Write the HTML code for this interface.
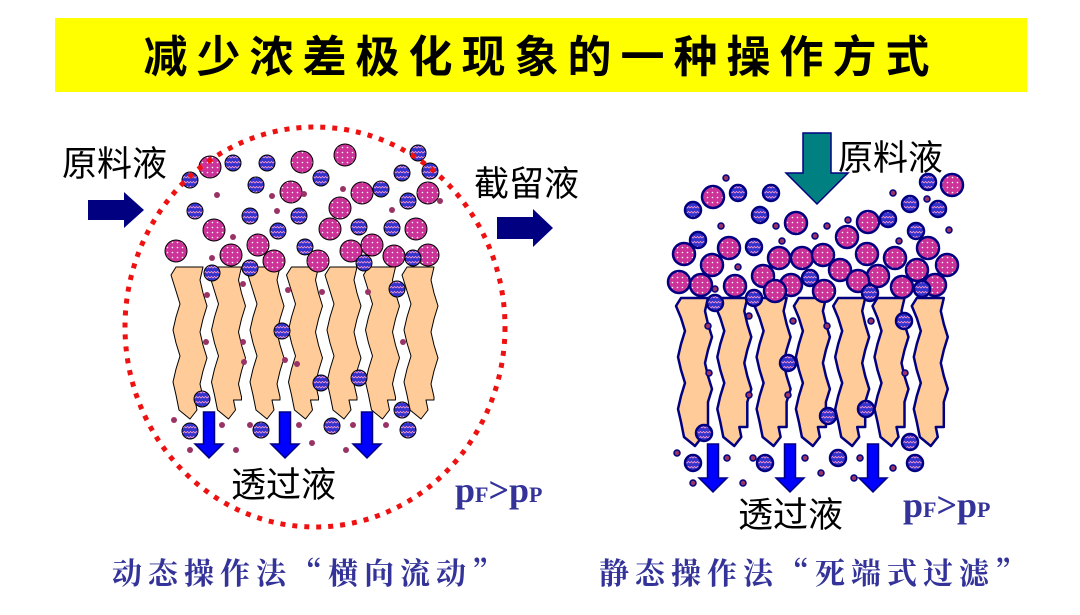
<!DOCTYPE html><html><head><meta charset="utf-8"><style>
body{margin:0;background:#fff;width:1080px;height:610px;overflow:hidden}
</style></head><body>
<svg id="s" width="1080" height="610" xmlns="http://www.w3.org/2000/svg" style="font-family:'Liberation Sans','Noto Sans CJK SC',sans-serif">
<defs>
<pattern id="dots" width="5" height="5" patternUnits="userSpaceOnUse"><rect width="5" height="5" fill="#cc3399"/><circle cx="2.5" cy="2.5" r="0.8" fill="#fff"/></pattern>
<pattern id="wave" width="6" height="5" patternUnits="userSpaceOnUse"><rect width="6" height="5" fill="#3333cc"/><path d="M0 3 L1.5 1.5 L3 3 L4.5 1.5 L6 3" stroke="#ff99cc" stroke-width="0.8" fill="none"/></pattern>
</defs>
<rect x="55" y="18" width="972" height="74" fill="#ffff00"/>
<text x="541" y="72" font-size="44" font-weight="bold" text-anchor="middle" letter-spacing="9" font-family="'Noto Sans CJK SC',sans-serif">减少浓差极化现象的一种操作方式</text>
<g id="g"></g>
<ellipse cx="315" cy="327" rx="190" ry="200" fill="none" stroke="#ee1111" stroke-width="5" stroke-dasharray="5 7"/>
<g font-size="35" fill="#000">
<text x="62" y="176">原料液</text>
<text x="474" y="196">截留液</text>
<text x="231" y="497">透过液</text>
<text x="838" y="170">原料液</text>
<text x="738" y="527">透过液</text>
</g>
<g font-family="'Liberation Serif',serif" font-weight="bold" fill="#333399">
<text x="455" y="502" font-size="36">p<tspan font-size="22">F</tspan>&gt;p<tspan font-size="22">P</tspan></text>
<text x="903" y="517" font-size="36">p<tspan font-size="22">F</tspan>&gt;p<tspan font-size="22">P</tspan></text>
</g>
<g font-family="'Noto Serif CJK SC',serif" font-weight="bold" fill="#333399" font-size="30" letter-spacing="6" text-anchor="middle">
<text x="310" y="584">动态操作法“横向流动”</text>
<text x="815" y="584">静态操作法“死端式过滤”</text>
</g>
</svg>
<script>
var g=document.getElementById('g'),h='';
function fiber(x,t,b,st,sw){var w=27,p='M'+x+' '+t+' L'+(x+w)+' '+t;var y=t,i=0;
 while(y<b-30){y+=26;p+=' L'+(x+w+(i%2?4:-3))+' '+(y-13)+' L'+(x+w)+' '+y;i++}
 p+=' L'+(x+w)+' '+(b-5)+' L'+(x+w-8)+' '+(b-5)+' L'+(x+w-6)+' '+(b+5)+' L'+(x+w-13)+' '+(b+14)+' L'+(x+3)+' '+(b+5)+' L'+x+' '+(b-10);
 y=b-10;i=0;while(y>t+26){y-=26;p+=' L'+(x+(i%2?4:-3))+' '+(y+13)+' L'+x+' '+y;i++}
 p+=' L'+(x-5)+' '+(t+8)+' Z';h+='<path d="'+p+'" fill="#ffcc99" stroke="'+st+'" stroke-width="'+sw+'" stroke-linejoin="round"/>';}
for(var k=0;k<7;k++)fiber(176+k*38.5,267,405,'#000',1);
for(var k=0;k<7;k++)fiber(681+k*39.3,298,432,'#000080',2.5);
var S='#000',W=1;
function P(x,y){h+='<circle cx="'+x+'" cy="'+y+'" r="11" fill="url(#dots)" stroke="'+S+'" stroke-width="'+W+'"/>'}
function B(x,y){h+='<circle cx="'+x+'" cy="'+y+'" r="8" fill="url(#wave)" stroke="'+S+'" stroke-width="'+W+'"/>'}
function D(x,y){h+='<circle cx="'+x+'" cy="'+y+'" r="3" fill="#993366"'+(W>1?' stroke="#000080" stroke-width="1.5"':'')+'/>'}
function Ad(x,y,c,w,hh,hw){h+='<path d="M'+(x-w/2)+' '+y+' h'+w+' v'+hh+' h'+(hw/2-w/2)+' l'+(-hw/2)+' '+(hw/2)+' l'+(-hw/2)+' '+(-hw/2)+' h'+(hw/2-w/2)+' z" fill="'+c+'" stroke="#000080" stroke-width="1.5"/>'}
[[210,167],[302,162],[345,155],[291,192],[362,193],[428,193],[340,208],[214,230],[258,245],[330,229],[416,229],[176,251],[231,255],[274,261],[318,261],[351,251],[372,245],[394,256],[428,255]].forEach(function(a){P(a[0],a[1])});
[[190,180],[233,163],[267,163],[321,178],[256,185],[402,173],[418,153],[430,171],[381,189],[408,201],[195,211],[250,216],[299,216],[359,227],[392,228],[278,231],[305,247],[364,263],[413,258],[250,268],[212,273],[397,289],[282,331],[321,383],[359,378],[202,399],[402,410],[190,431],[261,430],[332,426],[408,430]].forEach(function(a){B(a[0],a[1])});
[[217,195],[272,196],[277,211],[304,194],[343,189],[392,210],[440,201],[233,237],[212,258],[243,284],[207,295],[288,290],[322,292],[368,292],[243,342],[206,342],[285,360],[403,342],[244,362],[297,364],[174,420],[222,425],[250,425],[299,425],[353,425],[386,425],[312,443],[346,450],[236,450],[190,450]].forEach(function(a){D(a[0],a[1])});
S='#000080';W=2.5;
[[713,197],[796,223],[952,185],[868,222],[847,237],[684,254],[729,248],[712,265],[779,258],[802,258],[823,255],[840,270],[867,254],[895,258],[928,248],[947,265],[917,270],[878,276],[858,281],[679,282],[701,285],[735,286],[763,276],[791,285],[775,291],[824,291],[902,287],[935,285]].forEach(function(a){P(a[0],a[1])});
[[738,193],[771,193],[693,210],[760,215],[698,240],[754,247],[888,219],[910,204],[928,182],[938,209],[916,231],[810,278],[870,293],[922,289],[715,303],[754,298],[904,321],[788,363],[828,416],[866,409],[704,433],[910,442],[693,463],[765,463],[838,458],[915,463]].forEach(function(a){B(a[0],a[1])});
[[726,178],[893,193],[927,199],[721,226],[776,226],[827,226],[848,220],[815,236],[782,241],[899,241],[949,230],[738,267],[715,289],[708,326],[749,316],[793,321],[827,326],[871,321],[709,373],[905,373],[749,395],[788,395],[677,453],[727,458],[753,458],[805,458],[860,458],[893,468],[821,473],[693,483],[743,483],[854,478]].forEach(function(a){D(a[0],a[1])});
Ad(209,412,'#0000ff',11,32,28);Ad(285,412,'#0000ff',11,32,28);Ad(367,412,'#0000ff',11,32,28);
Ad(713,444,'#0000ff',11,34,28);Ad(790,444,'#0000ff',11,34,28);Ad(873,444,'#0000ff',11,34,28);
Ad(817,133,'#008080',28,40,62);
h+='<path d="M88 200 h36 v-8 l20 18 l-20 18 v-8 h-36 z" fill="#000080"/>';
h+='<path d="M497 217 h36 v-8 l20 19 l-20 19 v-8 h-36 z" fill="#000080"/>';
g.innerHTML=h;
</script>
</body></html>
